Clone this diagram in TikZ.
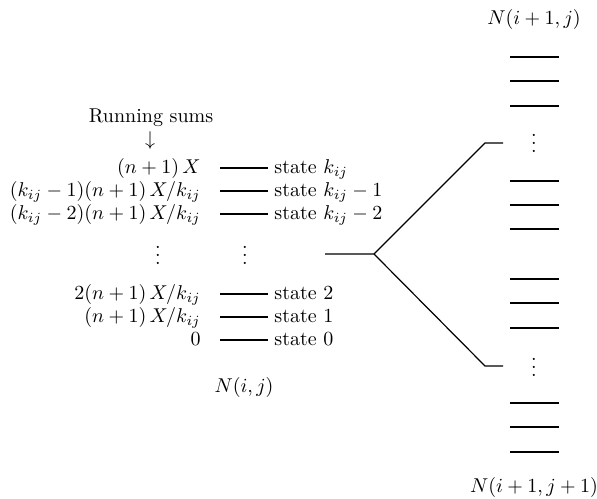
\documentclass[tikz,border=0pt]{standalone}
\begin{document}
\begin{tikzpicture}[x=0.5pt,y=-0.5pt,
  lab/.style={inner sep=0pt},
  lev/.style={line width=0.7pt},
  conn/.style={line width=0.6pt}]
\useasboundingbox (0,0) rectangle (597,498);
% heading
\node[lab] (rs) at (151,118) {Running sums};
\node[lab] (arr) at (150,140) {$\downarrow$};
% left rows: values
\node[lab,anchor=base east] (v1) at (201,173) {$(n+1)\,X$};
\node[lab,anchor=base east] (v2) at (201,196) {$(k_{ij}-1)(n+1)\,X/k_{ij}$};
\node[lab,anchor=base east] (v3) at (201,219) {$(k_{ij}-2)(n+1)\,X/k_{ij}$};
\node[lab,anchor=base east] (v4) at (201,299) {$2(n+1)\,X/k_{ij}$};
\node[lab,anchor=base east] (v5) at (201,322) {$(n+1)\,X/k_{ij}$};
\node[lab,anchor=base east] (v6) at (201,345) {$0$};
% state lines
\foreach \y/\n in {168/1,191/2,214/3,294/4,317/5,340/6}{
  \coordinate (la\n) at (220,\y);
  \coordinate (lb\n) at (268,\y);
  \draw[lev] (la\n) -- (lb\n);
}
% state labels
\node[lab,anchor=base west] (t1) at (274,173) {state $k_{ij}$};
\node[lab,anchor=base west] (t2) at (274,196) {state $k_{ij}-1$};
\node[lab,anchor=base west] (t3) at (274,219) {state $k_{ij}-2$};
\node[lab,anchor=base west] (t4) at (274,299) {state $2$};
\node[lab,anchor=base west] (t5) at (274,322) {state $1$};
\node[lab,anchor=base west] (t6) at (274,345) {state $0$};
% dots
\node[lab] (d1) at (158,249) {$\vdots$};
\node[lab] (d2) at (245,249) {$\vdots$};
\node[lab] (nij) at (244,387) {$N(i,j)$};
% branching
\coordinate (b0) at (325,254);
\coordinate (b1) at (374,254);
\coordinate (bu) at (485,143);
\coordinate (bu2) at (503,143);
\coordinate (bd) at (485,366);
\coordinate (bd2) at (503,366);
\draw[conn] (b0) -- (b1) -- (bu) -- (bu2);
\draw[conn] (b1) -- (bd) -- (bd2);
% right column
\node[lab] (ntop) at (534,20) {$N(i+1,j)$};
\node[lab] (nbot) at (534,487) {$N(i+1,j+1)$};
\foreach \y/\n in {57/1,81/2,106/3,181/4,205/5,229/6,279/7,303/8,328/9,403/10,427/11,452/12}{
  \coordinate (ra\n) at (510,\y);
  \coordinate (rb\n) at (559,\y);
  \draw[lev] (ra\n) -- (rb\n);
}
\node[lab] (rd1) at (534,137) {$\vdots$};
\node[lab] (rd2) at (534,361) {$\vdots$};
\end{tikzpicture}
\end{document}
